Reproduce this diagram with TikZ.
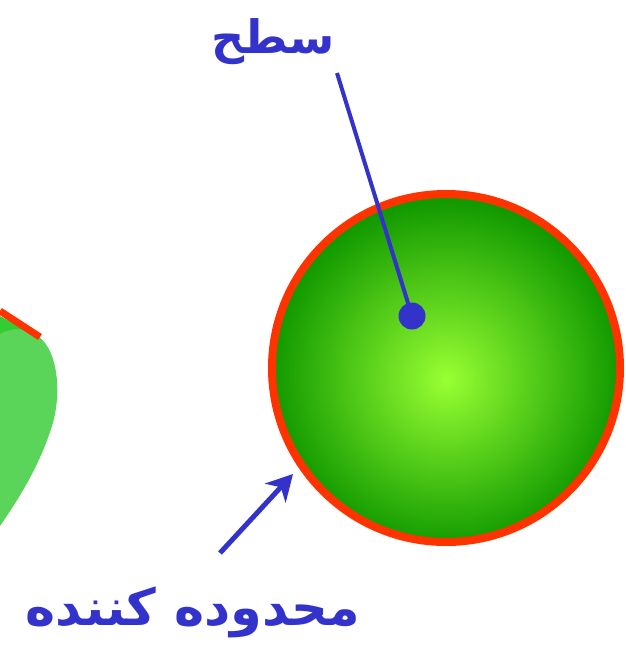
\documentclass[tikz,border=0pt]{standalone}
\usepackage{fontspec}
\TeXXeTstate=1
\newfontfamily\arabicfont[Script=Arabic]{DejaVu Sans}
\usetikzlibrary{arrows.meta}
\definecolor{lblue}{RGB}{51,51,204}
\definecolor{ored}{RGB}{255,51,0}
\definecolor{gin}{RGB}{153,255,51}
\definecolor{gout}{RGB}{17,153,0}
\definecolor{leafg}{RGB}{90,213,90}
\definecolor{leafd}{RGB}{51,204,51}
\pgfdeclareradialshading{ballshade}{\pgfpoint{0bp}{-1.7bp}}{color(0bp)=(gin); color(25bp)=(gout); color(50bp)=(gout)}
\tikzset{
  lab/.style={text=lblue, font=\arabicfont\bfseries, inner sep=0pt},
  pointer/.style={draw=lblue, line width=4pt},
}
\begin{document}
\begin{tikzpicture}[x=1pt,y=-1pt]
\useasboundingbox (0,0) rectangle (625,645);
% left partial shape
\fill[leafg] (0,318) -- (38,336) .. controls (60,352) and (62,400) .. (50,432) .. controls (38,468) and (18,500) .. (0,526) -- cycle;
\fill[leafd] (0,316) -- (26,330) .. controls (15,328) and (6,330) .. (0,334) -- cycle;
\draw[ored, line width=7pt] (0,311) -- (40,337);
% sphere
\node[circle, minimum size=348pt, inner sep=0pt, draw=ored, line width=8pt, shading=ballshade] (ball) at (446,368) {};
% dot and label
\node[circle, fill=lblue, minimum size=27pt, inner sep=0pt] (dot) at (412,316) {};
\coordinate (top) at (337,73);
\draw[pointer] (top) -- (dot.center);
\node[lab, font=\arabicfont\bfseries\fontsize{46}{56}\selectfont] (surf) at (273,42) {\beginR سطح\endR};
% arrow and bottom label
\coordinate (tail) at (220,553);
\coordinate (tip) at (293,474);
\draw[pointer, line width=5pt, -{Stealth[length=26pt, width=28pt, inset=8pt]}] (tail) -- (tip);
\node[lab, font=\arabicfont\bfseries\fontsize{51}{61}\selectfont] (bound) at (193,612) {\beginR محدوده کننده\endR};
\end{tikzpicture}
\end{document}
